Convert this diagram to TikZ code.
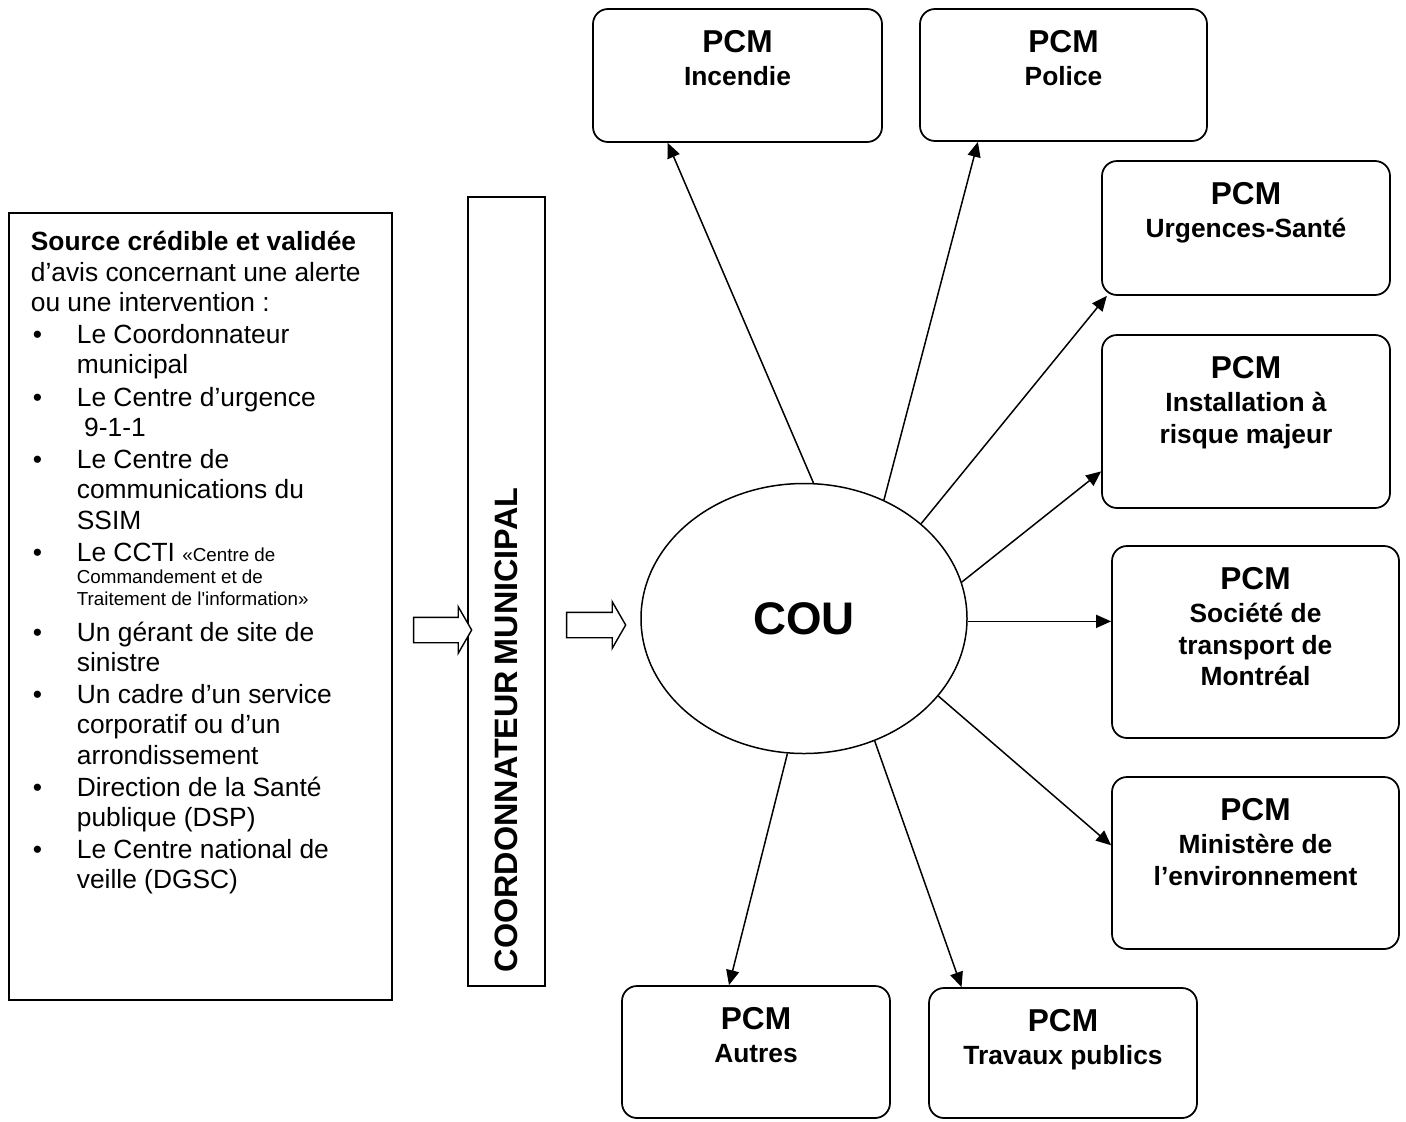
\documentclass[tikz,border=0pt]{standalone}
\usepackage{fontspec}
\setmainfont{Liberation Sans}
\usetikzlibrary{shapes.geometric,shapes.arrows,arrows.meta}

% text of a PCM box: width, height, second line
\newcommand{\pcm}[3]{\parbox[c][#2][t]{#1}{\centering\vspace*{4.35mm}%
  {\fontsize{18}{20}\selectfont PCM\par}\vspace{0.9pt}%
  {\fontsize{15}{17.9}\selectfont #3\par}}}
\newcommand{\puce}{\makebox[9.2mm][l]{\hspace{0.4mm}\textbullet}}
\newcommand{\suite}{\hspace*{9.2mm}}
\newcommand{\petit}{\fontsize{10.7}{12}\selectfont}

\begin{document}
\begin{tikzpicture}[x=0.2mm, y=-0.2mm,
                    pcmbox/.style={draw, rounded corners=3mm, line width=1pt, inner sep=0pt, font=\bfseries},
                    fl/.style={-{Triangle[length=3mm, width=2.6mm]}, line width=0.85pt},
                    hollow/.style={single arrow, draw, fill=white, line width=0.8pt, inner xsep=0pt, inner ysep=2.4mm,
                                   single arrow head extend=2.1mm, single arrow tip angle=120}]
  \useasboundingbox (0,0) rectangle (1406,1121);

  \node[draw, line width=1pt, inner sep=0pt, anchor=north west] (src) at (8,212)
    {\parbox[c][157.4mm][t]{76.6mm}{\raggedright\leftskip=4.4mm\parskip=1pt
      \fontsize{15}{17.25}\selectfont
      \vspace*{3.4mm}
      \textbf{Source crédible et validée}\\
      d’avis concernant une alerte\\
      ou une intervention :\par
      \puce Le Coordonnateur\\\suite municipal\par
      \puce Le Centre d’urgence\\\suite\ 9-1-1\par
      \puce Le Centre de\\\suite communications du\\\suite SSIM\par
      \puce Le CCTI {\petit «Centre de}\\[-4.6pt]\suite{\petit Commandement et de}\\[-4.6pt]\suite{\petit Traitement de l\textquotesingle information»}\par
      \vspace{2pt}
      \puce Un gérant de site de\\\suite sinistre\par
      \puce Un cadre d’un service\\\suite corporatif ou d’un\\\suite arrondissement\par
      \puce Direction de la Santé\\\suite publique (DSP)\par
      \puce Le Centre national de\\\suite veille (DGSC)\par}};

  \node[draw, line width=1pt, rotate=90, minimum width=157.8mm, minimum height=15.4mm,
        text width=152.2mm, inner xsep=2.8mm, inner ysep=0pt, align=left]
        (coord) at (506.5,591.5) {\bfseries\fontsize{18.4}{20}\selectfont COORDONNATEUR MUNICIPAL};

  \node[hollow, minimum height=11.6mm] (fl1) at (439,630) {};
  \node[hollow, minimum height=11.8mm] (fl2) at (592.5,625) {};

  \node[draw, ellipse, line width=0.85pt, minimum width=65.2mm, minimum height=54mm, inner sep=0pt,
        font=\bfseries\fontsize{26}{30}\selectfont] (cou) at (804,618.5) {COU};

  % les postes de commandement
  \node[pcmbox] (inc) at (737.5,75.5) {\pcm{57.8mm}{26.6mm}{Incendie}};
  \node[pcmbox] (pol) at (1063.5,75) {\pcm{57.4mm}{26.4mm}{Police}};
  \node[pcmbox] (urg) at (1246,228) {\pcm{57.6mm}{26.8mm}{Urgences-Santé}};
  \node[pcmbox] (ins) at (1246,421.5) {\pcm{57.6mm}{34.6mm}{Installation à\\ risque majeur}};
  \node[pcmbox] (soc) at (1255.5,642) {\pcm{57.4mm}{38.4mm}{Société de\\ transport de\\ Montréal}};
  \node[pcmbox] (min) at (1255.5,863) {\pcm{57.4mm}{34.4mm}{Ministère de\\ l’environnement}};
  \node[pcmbox] (aut) at (756,1052) {\pcm{53.6mm}{26.4mm}{Autres}};
  \node[pcmbox] (tra) at (1063,1053) {\pcm{53.6mm}{26mm}{Travaux publics}};

  \draw[fl] (cou.86) -- (inc.224.6);
  \draw[fl] (cou.56) -- (pol.218);
  \draw[fl] (cou.39) -- (urg.206.7);
  \draw[fl] (cou.13) -- (ins.199.3);
  \draw[fl] (cou.-1) -- (cou.-1 -| soc.west);
  \draw[fl] (cou.-30.6) -- (min.173.7);
  \draw[fl] (cou.-97.5) -- (aut.112.7);
  \draw[fl] (cou.-60.4) -- (tra.147.9);
\end{tikzpicture}
\end{document}
